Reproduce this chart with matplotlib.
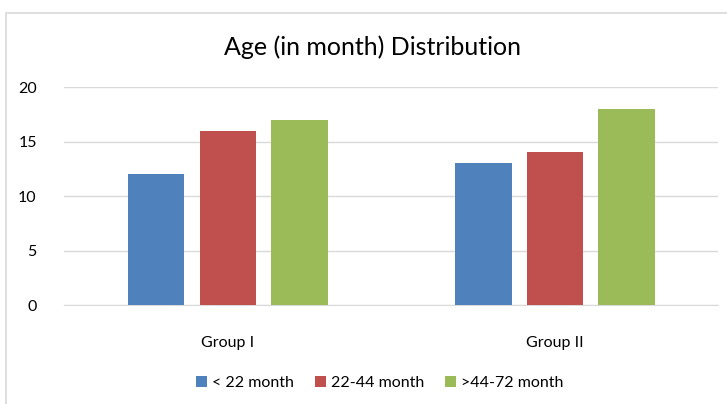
import numpy as np
import matplotlib.pyplot as plt
from matplotlib.patches import Rectangle

# chart data
groups = ['Group I', 'Group II']
series = ['< 22 month', '22-44 month', '>44-72 month']
under_22 = [12, 13]
from_22_44 = [16, 14]
from_44_72 = [17, 18]
colors = ['#4F81BD', '#C0504D', '#9BBB59']

plt.rcParams['font.family'] = 'Lato'

fig = plt.figure(figsize=(7.27, 4.04), dpi=100)
ax = fig.add_axes([0.0887, 0.245, 0.8996, 0.5396])

x = np.arange(len(groups))
width = 0.174
offset = 0.22
for i, (vals, lab) in enumerate(zip([under_22, from_22_44, from_44_72], series)):
    ax.bar(x + (i - 1) * offset, vals, width, color=colors[i], label=lab, zorder=3)

ax.set_xlim(-0.5, 1.5)
ax.set_ylim(0, 20)
ax.set_yticks(range(0, 21, 5))
ax.set_xticks(x)
ax.set_xticklabels(groups)
ax.grid(axis='y', color='#D9D9D9', linewidth=1, zorder=0)
for s in ['top', 'right', 'left']:
    ax.spines[s].set_visible(False)
ax.spines['bottom'].set_color('#D9D9D9')
ax.tick_params(axis='both', length=0, labelsize=11.5, colors='black')
ax.tick_params(axis='x', pad=22)
ax.tick_params(axis='y', pad=20)

fig.text(0.513, 0.883, 'Age (in month) Distribution', ha='center', va='center', fontsize=18)

fig.legend(loc='center', bbox_to_anchor=(0.522, 0.052), ncol=3, frameon=False,
           fontsize=11.5, handlelength=0.7, handleheight=0.7, handletextpad=0.3,
           columnspacing=1.3)

# outer chart border
fig.patches.append(Rectangle((6 / 727, -0.1), 1.2, 1 - 13 / 404 + 0.1, transform=fig.transFigure,
                             fill=False, edgecolor='#D9D9D9', linewidth=1.2))

plt.savefig('out.png', dpi=100)
